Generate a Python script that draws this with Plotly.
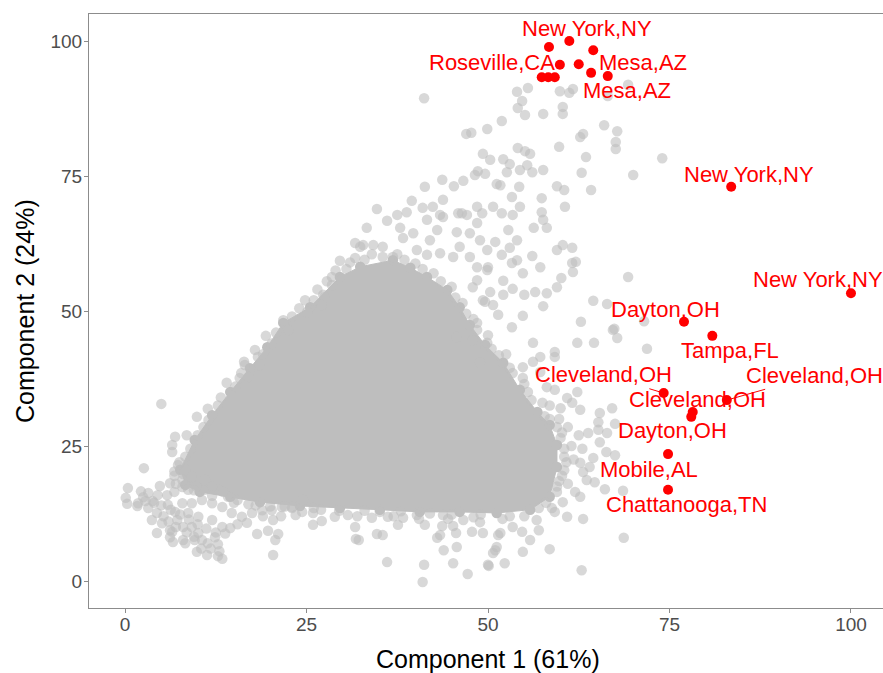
import plotly.graph_objects as go

# ---------------- data ----------------
# dense core of the cloud (outline of the solid grey region)
core_x = [7.6, 9.6, 12.0, 14.5, 17.2, 19.6, 21.8, 25.5, 29.6, 32.4, 36.9, 39.3, 41.6, 44.4, 46.1, 47.5,
          49.6, 52.1, 54.4, 56.8, 58.5, 59.5, 59.5, 58.5, 55.8, 51.2, 46.1, 40.6, 35.1, 29.6, 24.1, 18.6,
          14.5, 10.3, 8.3]
core_y = [20.6, 26.1, 30.7, 35.0, 39.4, 43.3, 47.8, 50.7, 56.3, 58.2, 59.4, 58.0, 56.3, 53.9, 50.7, 47.4,
          43.7, 40.4, 35.4, 31.3, 28.9, 25.2, 21.1, 15.6, 13.2, 12.6, 12.8, 12.8, 13.2, 13.5, 13.9, 14.6,
          15.6, 16.5, 17.8]

# individual grey points around the core
grey_pts = [
    (41.2, 89.4), (47.0, 82.8), (54.0, 90.6), (55.5, 91.3), (54.7, 88.9), (54.1, 87.6), (55.1, 86.3),
    (57.6, 86.5), (59.9, 90.7), (61.2, 90.4), (61.7, 91.1), (60.3, 87.8), (60.3, 86.5), (51.9, 85.2),
    (49.9, 83.7), (47.7, 83.0), (66.0, 84.4), (67.8, 83.3), (67.6, 81.3), (67.6, 80.0), (62.7, 82.2),
    (63.1, 82.8), (59.8, 80.4), (63.5, 78.5), (62.9, 75.6), (64.2, 72.4), (70.0, 75.2), (69.3, 91.9),
    (66.5, 89.8), (74.0, 78.3), (54.1, 80.2), (55.1, 79.6), (55.8, 79.1), (49.3, 79.1), (50.3, 78.0),
    (52.1, 78.1), (53.0, 77.2), (55.4, 77.0), (56.1, 75.7), (54.4, 76.1), (52.6, 75.7), (48.6, 75.9),
    (48.2, 75.2), (49.6, 75.4), (57.6, 76.1), (51.2, 73.5), (51.7, 73.3), (54.3, 73.0), (59.5, 73.1),
    (60.5, 72.4), (57.4, 70.9), (60.6, 69.3), (53.3, 71.1), (50.7, 69.3), (49.2, 68.1), (46.4, 68.1),
    (45.3, 73.1), (46.6, 74.1), (43.7, 74.3), (48.5, 66.3), (51.9, 68.1), (53.4, 67.8), (54.4, 69.3),
    (57.4, 68.3), (57.6, 66.9), (56.3, 65.4), (58.1, 65.4), (52.8, 65.0), (47.5, 64.4), (45.7, 64.6),
    (43.8, 70.6), (43.8, 67.4), (41.3, 73.0), (39.5, 70.4), (34.7, 68.9), (41.0, 69.1), (36.1, 66.7),
    (33.3, 65.4), (31.7, 62.6), (32.8, 62.2), (37.5, 67.8), (37.9, 65.4), (38.8, 68.3), (39.7, 64.4),
    (41.6, 66.9), (42.4, 69.3), (43.4, 67.8), (43.0, 65.0), (42.0, 63.1), (43.4, 60.7), (41.6, 60.4),
    (40.2, 61.3), (38.3, 63.5), (36.9, 60.0), (35.5, 61.9), (34.2, 62.2), (32.4, 61.9), (45.9, 68.1),
    (47.1, 67.8), (48.5, 69.3), (48.9, 63.1), (46.1, 61.9), (45.2, 60.0), (47.5, 60.0), (48.5, 58.1),
    (49.9, 57.6), (47.9, 54.4), (49.3, 52.0), (48.5, 47.8), (49.9, 44.1), (47.9, 44.6), (45.7, 45.2),
    (48.9, 40.4),
    (69.3, 56.3), (64.5, 51.9), (66.4, 51.3), (67.4, 46.7), (67.8, 45.0), (62.8, 48.0), (62.3, 44.1),
    (64.6, 44.1), (71.9, 43.0), (59.2, 42.4), (61.6, 58.9), (62.1, 59.1), (61.7, 57.2), (60.1, 56.1),
    (59.5, 61.3), (60.3, 62.2), (61.6, 61.7), (59.5, 54.4), (58.1, 53.3), (57.6, 50.9), (56.5, 53.5),
    (55.0, 53.0), (54.8, 49.1), (53.3, 47.0), (56.2, 44.1), (57.2, 41.5), (59.2, 41.5), (56.2, 40.6),
    (54.8, 39.6), (53.4, 38.5), (54.8, 37.6), (57.2, 38.7), (59.2, 35.4), (58.1, 35.9), (62.3, 35.0),
    (60.9, 33.9), (61.6, 33.0), (62.7, 31.7), (65.4, 31.1), (67.1, 32.0), (65.2, 29.4), (67.5, 29.1),
    (57.2, 58.1), (54.8, 57.0), (54.0, 59.4), (56.1, 60.2), (53.3, 58.9), (52.1, 55.6), (53.4, 54.1),
    (52.1, 53.0), (50.3, 53.5), (50.7, 51.1), (51.4, 49.3), (53.0, 61.7), (51.9, 60.4), (54.0, 63.1),
    (51.0, 62.8), (49.9, 61.3), (50.0, 58.1), (48.5, 55.7), (49.6, 51.7), (71.5, 48.1), (67.2, 46.5),
    (65.2, 28.0), (66.4, 27.4), (63.8, 27.4), (65.4, 25.7), (66.3, 23.9), (67.5, 23.3), (64.5, 22.8),
    (64.0, 21.1), (62.7, 21.9), (63.1, 20.2), (63.6, 18.7), (64.7, 18.3), (66.1, 17.0), (68.6, 16.7),
    (62.0, 16.5), (62.7, 15.6), (60.3, 14.6), (59.2, 12.8), (60.9, 11.9), (63.1, 11.5), (58.8, 13.5),
    (56.7, 11.3), (57.0, 9.4), (55.8, 7.6), (54.8, 5.4), (53.4, 10.0), (54.7, 9.1), (51.7, 8.9),
    (49.3, 8.9), (51.2, 6.3), (50.7, 5.2), (52.3, 3.3), (50.0, 3.0), (58.5, 5.9), (62.9, 2.0),
    (68.7, 8.0),
    (59.8, 30.0), (61.0, 28.5), (60.0, 26.5), (61.5, 25.0), (60.5, 23.0), (61.8, 22.5), (60.2, 19.5),
    (61.0, 18.0), (59.5, 17.5), (62.5, 27.0), (63.0, 24.5), (58.5, 32.5), (60.0, 32.0),
    (25.9, 10.4), (27.1, 11.1), (31.7, 10.0), (31.8, 7.8), (32.2, 7.6), (34.7, 8.7), (35.5, 8.5),
    (34.0, 11.7), (36.2, 11.9), (37.6, 10.4), (36.1, 3.5), (41.2, 3.0), (41.0, -0.2), (41.3, 10.4),
    (43.0, 8.0), (43.7, 10.2), (43.4, 8.5), (43.9, 5.7), (45.2, 10.2), (45.6, 8.9), (45.7, 6.3),
    (45.2, 3.3), (47.2, 1.3), (47.8, 9.1), (51.4, 8.5), (51.0, 5.7), (50.1, 2.8), (48.9, 10.9),
    (46.6, 11.3), (43.8, 12.2), (40.2, 12.2), (38.3, 11.7), (35.1, 12.8), (30.7, 12.2), (28.9, 11.9),
    (25.9, 12.6), (24.5, 15.0), (27.0, 13.2), (33.0, 13.0), (38.0, 12.9), (42.0, 12.5), (45.0, 12.3),
    (49.0, 12.3), (53.0, 12.0), (23.0, 13.5), (20.0, 13.8),
    (5.0, 32.8), (2.6, 20.9), (0.4, 17.2), (0.1, 15.4), (0.3, 14.3), (1.7, 13.9), (4.4, 8.9),
    (6.2, 9.4), (6.6, 7.2), (16.4, 40.6), (18.3, 41.5), (14.0, 36.7), (15.8, 37.6), (11.4, 31.9),
    (9.9, 30.4), (6.9, 26.7), (6.5, 25.2), (6.5, 23.9), (8.0, 19.8), (6.2, 18.1), (7.9, 17.4),
    (8.0, 7.6), (9.9, 5.4), (11.3, 4.8), (12.8, 4.6), (13.4, 4.1), (18.2, 8.7), (20.4, 4.8),
    (20.4, 11.3), (19.7, 9.3), (20.7, 7.6), (21.1, 8.7), (8.5, 27.0), (8.3, 20.6),
    (3.2, 16.3), (4.5, 15.9), (1.8, 14.4), (3.2, 13.5), (4.4, 12.6), (5.8, 15.9), (5.9, 14.1),
    (6.9, 12.8), (7.2, 11.3), (8.0, 10.0), (9.2, 10.0), (10.1, 8.9), (10.6, 7.6), (11.4, 7.0),
    (12.4, 8.1), (13.4, 10.0), (12.0, 11.3), (10.1, 11.9), (8.7, 12.6), (7.9, 14.4), (9.2, 14.4),
    (10.6, 15.0), (12.0, 14.4), (13.4, 13.7), (14.7, 12.6), (16.1, 11.9), (17.5, 12.6), (18.9, 13.1),
    (20.2, 13.1), (21.6, 13.7), (23.0, 13.7), (24.4, 12.8), (8.7, 16.9), (7.9, 18.7), (9.2, 19.3),
    (11.0, 16.9), (12.8, 16.9), (14.2, 15.6), (8.3, 23.0), (7.3, 21.5), (11.0, 18.7), (9.6, 7.6),
    (8.3, 7.0), (6.5, 9.1), (5.1, 10.7), (3.7, 11.3), (6.2, 8.1), (4.8, 17.6), (6.8, 20.3), (2.2, 16.6),
    (2.5, 15.5), (3.8, 14.8), (5.0, 14.0), (6.3, 13.2), (7.6, 12.3), (8.8, 11.4), (10.0, 10.5),
    (11.2, 9.7), (12.5, 9.0), (13.8, 8.8), (14.5, 9.8), (15.5, 10.5), (16.8, 10.8), (5.3, 12.0),
    (6.0, 11.0), (7.0, 10.0), (8.5, 9.0), (9.5, 8.2), (11.8, 6.0), (12.8, 6.8), (13.0, 5.5),
    (10.5, 6.0), (4.0, 14.5), (2.8, 14.8), (6.8, 16.5), (9.8, 17.5), (12.0, 17.5), (13.5, 16.5),
    (15.5, 15.0), (17.0, 14.2), (19.0, 12.0), (21.5, 12.0), (23.5, 12.2),
    (29.6, 59.3), (28.5, 56.3), (27.3, 53.0), (24.8, 52.0), (25.1, 49.8), (21.8, 48.3), (27.5, 52.6),
    (27.1, 51.1), (28.5, 54.8), (31.7, 59.8), (19.4, 45.4), (17.9, 42.8), (16.5, 40.0),
    # ragged rim of the dense core
    (10.8, 28.5), (12.8, 32.5), (13.2, 34.0), (15.2, 36.0), (16.0, 38.5), (17.0, 37.8), (18.5, 40.0),
    (19.0, 42.0), (20.2, 44.0), (20.8, 46.0), (22.5, 46.5), (23.0, 49.0), (24.0, 50.5), (26.0, 52.0),
    (26.5, 54.0), (27.8, 55.5), (29.0, 57.5), (30.5, 57.8), (31.0, 59.0), (33.0, 59.5), (34.0, 60.5),
    (35.5, 60.0), (37.5, 60.5), (38.5, 59.5), (40.0, 58.8), (41.0, 57.8), (42.5, 57.0), (43.5, 55.5),
    (45.0, 54.5), (45.5, 52.5), (46.5, 51.5), (47.0, 49.5), (48.0, 48.5), (48.5, 46.5), (50.0, 45.5),
    (50.5, 43.0), (51.5, 41.8), (52.5, 42.0), (53.0, 39.5), (55.0, 36.5), (55.5, 35.0), (56.0, 33.5),
    (57.5, 33.0), (57.8, 30.5), (58.5, 30.0), (59.5, 28.5), (60.2, 27.5), (60.5, 24.5), (60.8, 22.0),
    (60.5, 20.5), (59.8, 18.5), (59.5, 16.5), (58.0, 14.5), (57.0, 13.5), (55.0, 12.0), (52.0, 11.5),
    (48.0, 11.8), (44.5, 11.5), (40.5, 11.5), (37.0, 12.0), (32.0, 12.0), (29.5, 13.0), (26.0, 13.5),
    (22.0, 13.8), (18.0, 14.0), (15.0, 14.5), (12.0, 15.8), (9.5, 16.8), (7.0, 18.0), (6.8, 19.5),
    (7.5, 22.0), (9.0, 24.5), (10.0, 27.0), (11.5, 29.8),
]
grey_x = [p[0] for p in grey_pts]
grey_y = [p[1] for p in grey_pts]

# highlighted cities
red_x = [58.4, 61.2, 64.5, 59.9, 62.5, 64.2, 66.5, 57.4, 58.3, 59.2, 83.5, 100.0, 77.0, 80.9,
         74.2, 82.9, 78.2, 78.0, 74.8, 74.8]
red_y = [98.9, 100.0, 98.3, 95.6, 95.7, 94.1, 93.5, 93.3, 93.3, 93.3, 73.0, 53.3, 48.0, 45.4,
         34.8, 33.5, 31.3, 30.4, 23.5, 16.9]

# labels (text, label centre, index of point it points to when a segment is drawn)
label_text = ["New York,NY", "Roseville,CA", "Mesa,AZ", "Mesa,AZ", "New York,NY", "New York,NY",
              "Dayton,OH", "Tampa,FL", "Cleveland,OH", "Cleveland,OH", "Cleveland,OH", "Dayton,OH",
              "Mobile,AL", "Chattanooga,TN"]
label_x = [63.7, 50.5, 71.3, 69.1, 86.0, 95.4, 74.4, 83.3, 65.9, 95.0, 78.8, 75.4, 72.2, 77.3]
label_y = [102.4, 96.1, 96.0, 90.8, 75.3, 55.8, 50.2, 42.7, 38.2, 38.1, 33.6, 27.9, 20.6, 14.1]
label_seg = [None, None, None, None, None, None, None, None, 14, 15, None, None, None, None]

x_ticks = [0, 25, 50, 75, 100]
y_ticks = [0, 25, 50, 75, 100]
x_title = "Component 1 (61%)"
y_title = "Component 2 (24%)"

# ---------------- figure ----------------
FONT = "Liberation Sans, Arial, sans-serif"
GREY = "rgb(190,190,190)"

fig = go.Figure()
fig.add_trace(go.Scatter(
    x=core_x, y=core_y, mode="lines+markers", fill="toself", fillcolor=GREY,
    line=dict(color=GREY, width=1),
    marker=dict(size=10.5, color=GREY), hoverinfo="skip", showlegend=False))
fig.add_trace(go.Scatter(
    x=grey_x, y=grey_y, mode="markers",
    marker=dict(size=10.5, color="rgba(190,190,190,0.6)", line=dict(width=0)),
    showlegend=False))
fig.add_trace(go.Scatter(
    x=red_x, y=red_y, mode="markers",
    marker=dict(size=10, color="#FF0000", line=dict(width=0)),
    showlegend=False))

for t, lx, ly, seg in zip(label_text, label_x, label_y, label_seg):
    if seg is None:
        fig.add_annotation(x=lx, y=ly, xref="x", yref="y", text=t, showarrow=False,
                           font=dict(family=FONT, size=22, color="#FF0000"))
    else:
        fig.add_annotation(x=red_x[seg], y=red_y[seg], xref="x", yref="y",
                           ax=lx, ay=ly, axref="x", ayref="y", text=t, showarrow=True,
                           arrowhead=0, arrowwidth=1, arrowcolor="#FF0000", standoff=3,
                           font=dict(family=FONT, size=22, color="#FF0000"))

fig.add_annotation(x=0.5025, y=0, xref="paper", yref="paper", yanchor="middle",
                   yshift=-51, text=x_title, showarrow=False,
                   font=dict(family=FONT, size=25, color="black"))
fig.add_annotation(x=0, y=0.5, xref="paper", yref="paper", xanchor="center",
                   xshift=-64, text=y_title, textangle=-90, showarrow=False,
                   font=dict(family=FONT, size=25, color="black"))

AX = "#8c8c8c"
fig.update_xaxes(range=[-4.96, 104.41], tickvals=x_ticks, ticks="outside", ticklen=4,
                 tickcolor=AX, showline=True, linecolor=AX, linewidth=1.2, mirror=True,
                 showgrid=False, zeroline=False, ticklabelstandoff=-5,
                 tickfont=dict(family=FONT, size=19, color="#4d4d4d"))
fig.update_yaxes(range=[-5, 105], tickvals=y_ticks, ticks="outside", ticklen=4,
                 tickcolor=AX, showline=True, linecolor=AX, linewidth=1.2,
                 showgrid=False, zeroline=False, ticklabelstandoff=-2,
                 tickfont=dict(family=FONT, size=19, color="#4d4d4d"))
fig.update_layout(width=883, height=673, margin=dict(l=89, r=0, t=14, b=65),
                  plot_bgcolor="white", paper_bgcolor="white", showlegend=False)

fig.write_html("out.html")
